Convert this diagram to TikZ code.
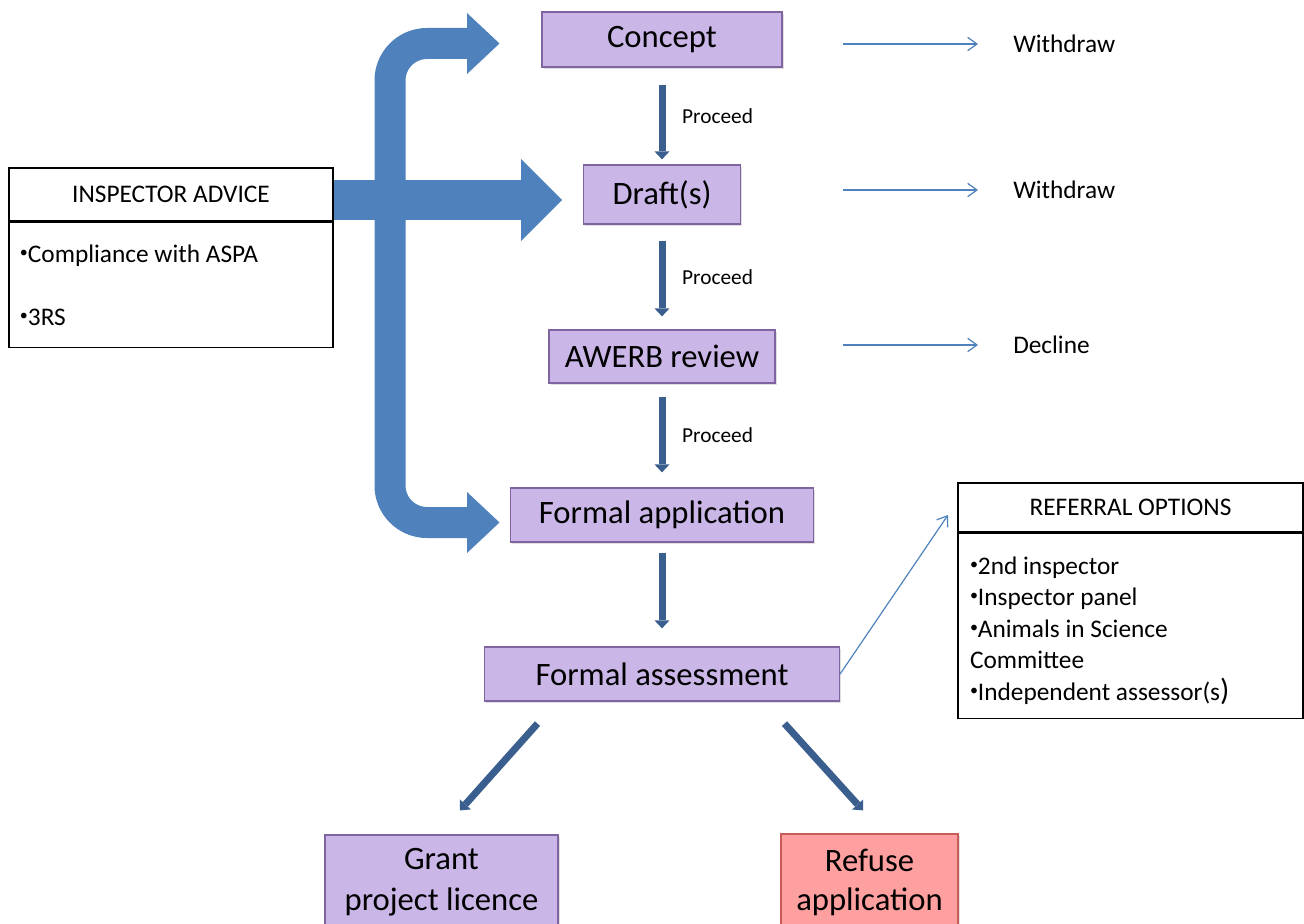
\documentclass[tikz,border=0pt]{standalone}
\usepackage{fontspec}
\setmainfont{Carlito}
\usetikzlibrary{arrows.meta,positioning,shadows}
\definecolor{boxpurple}{RGB}{203,182,232}
\definecolor{boxedge}{RGB}{128,100,162}
\definecolor{refusefill}{RGB}{255,160,160}
\definecolor{refuseedge}{RGB}{200,90,88}
\definecolor{bigblue}{RGB}{79,129,189}
\definecolor{darkblue}{RGB}{58,95,142}
\newcommand{\bul}{\raisebox{0.2em}{\fontsize{12}{12}\selectfont•}}
\tikzset{
  stage/.style={draw=boxedge, fill=boxpurple, line width=0.9pt, inner sep=0pt, align=center,
    font=\fontsize{24.5}{30.75}\selectfont,
    drop shadow={opacity=0.25, shadow xshift=1.2pt, shadow yshift=-1.2pt}},
  downarrow/.style={draw=darkblue, line width=5.25pt, -{Triangle[width=11.25pt,length=6pt,line width=0pt]}},
  thinarrow/.style={draw=bigblue, line width=0.9pt, -{Straight Barb[length=7pt,width=10pt]}},
  proceed/.style={font=\fontsize{16}{19}\selectfont, inner sep=0pt, anchor=west, xshift=12.5pt},
  sidetext/.style={font=\fontsize{19}{23}\selectfont, inner sep=0pt, anchor=west},
  boxhead/.style={draw, fill=white, line width=1.2pt, inner sep=0pt, font=\fontsize{19}{23}\selectfont},
  boxbody/.style={draw, fill=white, line width=1.2pt, inner ysep=0pt, align=flush left, anchor=north}
}
\begin{document}
\begin{tikzpicture}[x=0.75pt,y=-0.75pt]
    \useasboundingbox (0,0) rectangle (1304,924);
    % big blue arrows from the inspector
    \draw[bigblue, line width=23.25pt, rounded corners=27.75pt] (468,43.5) -- (390,43.5) -- (390,522.5) -- (468,522.5);
    \fill[bigblue] (467,13) -- (499.5,43.5) -- (467,74) -- cycle;
    \fill[bigblue] (467,492) -- (499.5,522.5) -- (467,553) -- cycle;
    \fill[bigblue] (333,180) rectangle (522,220);
    \fill[bigblue] (521,159) -- (562,200) -- (521,241) -- cycle;

    % stages
    \node[stage, minimum width=180pt, minimum height=41.25pt] (concept) at (662,39.5) {Concept};
    \node[stage, minimum width=117.75pt, minimum height=44.25pt] (draft) at (662,194.5) {Draft(s)};
    \node[stage, minimum width=169.5pt, minimum height=39.75pt] (awerb) at (662,356.5) {AWERB review};
    \node[stage, minimum width=227.25pt, minimum height=40.5pt] (formapp) at (662,515) {Formal application};
    \node[stage, minimum width=266.25pt, minimum height=40.5pt] (assess) at (662,674) {Formal assessment};
    \node[stage, minimum width=174.75pt, minimum height=71.25pt] (grant) at (441.5,882.5) {Grant\\project licence};
    \node[stage, draw=refuseedge, fill=refusefill, minimum width=132.75pt, minimum height=72pt,
      font=\fontsize{24.5}{29.25}\selectfont] (refuse) at (869.5,882) {Refuse\\application};

    % inspector advice
    \node[boxhead, minimum width=243pt, minimum height=39.75pt] (advhead) at (171,194.5) {INSPECTOR ADVICE};
    \node[boxbody, at=(advhead.south), minimum width=243pt, minimum height=93.75pt, inner xsep=8.25pt,
      text width=226.5pt, font=\fontsize{19}{47.25}\selectfont] (advbody) {\bul Compliance with ASPA\\\bul 3RS};

    % referral options
    \node[boxhead, minimum width=258.75pt, minimum height=36.75pt] (refhead) at (1130.5,507.5) {REFERRAL OPTIONS};
    \node[boxbody, at=(refhead.south), minimum width=258.75pt, minimum height=138.75pt, inner xsep=9pt,
      text width=240.75pt, font=\fontsize{19}{23.6}\selectfont] (refbody)
      {\rule{0pt}{20pt}\bul 2nd inspector\\\bul Inspector panel\\\bul Animals in Science\\Committee\\
       \bul Independent assessor(s{\fontsize{23}{23}\selectfont)}};

    % main flow
    \foreach \a/\b/\s/\e in {concept/draft/12.75/3.75, draft/awerb/12/9.75, awerb/formapp/9.75/11.25}
        \draw[downarrow, shorten <=\s pt, shorten >=\e pt] (\a) -- node[proceed] {Proceed} (\b);
    \draw[downarrow, shorten <=7.5pt, shorten >=13.5pt] (formapp) -- (assess);
    \draw[downarrow] ([shift={(-124.5,22)}]assess.south) -- ([shift={(18.5,-24)}]grant.north);
    \draw[downarrow] ([shift={(122.5,22)}]assess.south) -- ([shift={(-6.5,-23)}]refuse.north);

    % exits
    \foreach \y/\t/\n in {44/Withdraw/wda, 190/Withdraw/wdb, 345/Decline/dec} {
        \node[sidetext] (\n) at (1013,\y) {\t};
        \coordinate (\n from) at (843,\y);
        \draw[thinarrow, shorten >=26.25pt] (\n from) -- (\n.west);
    }
    \coordinate (refin) at (948,515);
    \draw[thinarrow] (assess.east) -- (refin);
\end{tikzpicture}
\end{document}
